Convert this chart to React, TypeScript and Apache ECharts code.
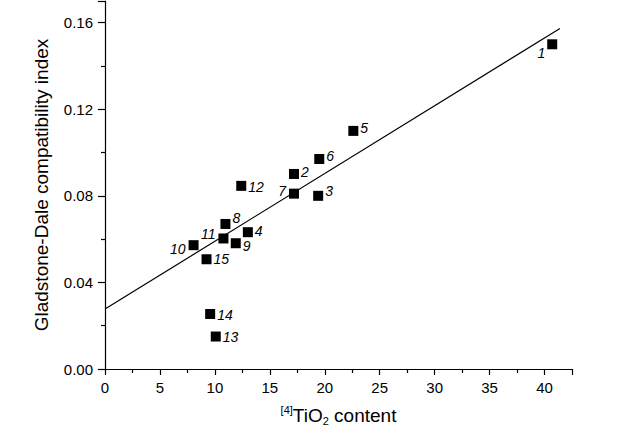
import React, { useEffect, useRef } from "react";
import * as echarts from "echarts";

const pointIds = ["1", "2", "3", "4", "5", "6", "7", "8", "9", "10", "11", "12", "13", "14", "15"];
const tio2 = [40.7, 17.2, 19.4, 13.0, 22.6, 19.5, 17.2, 10.96, 11.9, 8.06, 10.78, 12.4, 10.08, 9.57, 9.24];
const gdIndex = [0.150, 0.0901, 0.0800, 0.0632, 0.110, 0.0970, 0.0810, 0.0670, 0.0581, 0.0572, 0.0603, 0.0846, 0.0150, 0.0254, 0.0507];
const fitX = [0, 41.4];
const fitY = [0.0277, 0.1573];

// label placement (styling only)
const labelSide = ["below-left", "right", "right", "right", "right", "right", "left", "right", "right", "left", "left", "right", "right", "right", "right"];
const labelDy = [9, -2, -5, -1, -3, -3, -3, -6, 3, 4, -4, 1, 0, 1, 0];

const FONT = "'Liberation Sans', Arial, sans-serif";

export default function App() {
  const ref = useRef<HTMLDivElement>(null);
  useEffect(() => {
    if (!ref.current) return;
    const chart = echarts.init(ref.current, null, { renderer: "svg" });
    const pts = tio2.map((x, i) => {
      const side = labelSide[i];
      const dy = labelDy[i];
      const label: any =
        side === "below-left"
          ? { position: "left", offset: [3, dy] }
          : side === "left"
          ? { position: "left", distance: 3, offset: [0, dy] }
          : { position: "right", distance: 2, offset: [0, dy] };
      return { value: [x, gdIndex[i]], name: pointIds[i], label };
    });
    chart.setOption({
      animation: false,
      backgroundColor: "#ffffff",
      grid: { left: 105, right: 68, top: 1, bottom: 66, containLabel: false, outerBoundsMode: "none" },
      xAxis: {
        type: "value",
        min: 0,
        max: 42.5,
        interval: 5,
        name: "{sup|[4]}TiO{sub|2} content",
        nameLocation: "middle",
        nameGap: 35,
        nameTextStyle: {
          fontFamily: FONT,
          fontSize: 19,
          color: "#000",
          rich: {
            sup: { fontSize: 11, fontFamily: FONT, color: "#000", verticalAlign: "top", lineHeight: 22 },
            sub: { fontSize: 11, fontFamily: FONT, color: "#000", verticalAlign: "bottom", lineHeight: 10 },
          },
        },
        axisLine: { show: true, onZero: false, lineStyle: { color: "#000", width: 1.2 } },
        axisTick: { show: true, length: 6, lineStyle: { color: "#000", width: 1.2 } },
        minorTick: { show: true, splitNumber: 2, length: 4, lineStyle: { color: "#000", width: 1.2 } },
        splitLine: { show: false },
        axisLabel: { fontFamily: FONT, fontSize: 15, color: "#000", margin: 11, showMaxLabel: false },
      },
      yAxis: {
        type: "value",
        min: 0,
        max: 0.17,
        interval: 0.04,
        name: "Gladstone-Dale compatibility index",
        nameLocation: "middle",
        nameGap: 54,
        nameTextStyle: { fontFamily: FONT, fontSize: 19, color: "#000" },
        axisLine: { show: true, onZero: false, lineStyle: { color: "#000", width: 1.2 } },
        axisTick: { show: true, length: 7, lineStyle: { color: "#000", width: 1.2 } },
        minorTick: { show: true, splitNumber: 2, length: 4, lineStyle: { color: "#000", width: 1.2 } },
        splitLine: { show: false },
        axisLabel: {
          fontFamily: FONT,
          fontSize: 15,
          color: "#000",
          margin: 12,
          showMaxLabel: false,
          formatter: (v: number) => v.toFixed(2),
        },
      },
      series: [
        {
          type: "line",
          data: fitX.map((x, i) => [x, fitY[i]]),
          symbol: "none",
          lineStyle: { color: "#000", width: 1.2 },
          z: 2,
        },
        {
          type: "scatter",
          data: pts,
          symbol: "rect",
          symbolSize: 10,
          itemStyle: { color: "#000", opacity: 1 },
          label: {
            show: true,
            formatter: (p: any) => p.name,
            fontFamily: FONT,
            fontSize: 14,
            fontStyle: "italic",
            color: "#000",
          },
          z: 3,
        },
      ],
    });
    return () => chart.dispose();
  }, []);
  return <div ref={ref} style={{ width: 640, height: 435, position: "absolute", left: 0, top: 0 }} />;
}
